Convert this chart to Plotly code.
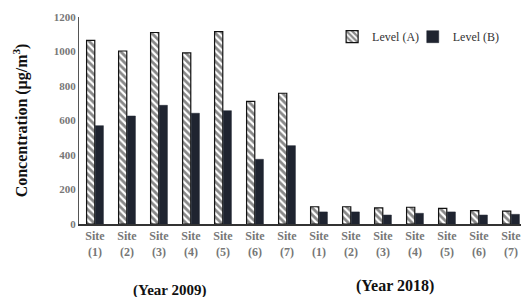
import plotly.graph_objects as go

years = ["2009"] * 7 + ["2018"] * 7
site_labels = ["Site<br>(1)", "Site<br>(2)", "Site<br>(3)", "Site<br>(4)", "Site<br>(5)", "Site<br>(6)", "Site<br>(7)"] * 2
level_a = [1065, 1003, 1110, 992, 1115, 711, 758, 100, 100, 93, 97, 90, 78, 75]
level_b = [570, 626, 688, 642, 657, 375, 454, 70, 70, 52, 62, 70, 52, 56]
y_ticks = [0, 200, 400, 600, 800, 1000, 1200]

cats = [f"Y{y} S{i}" for i, y in enumerate(years)]
serif = "Liberation Serif"

fig = go.Figure()
fig.add_trace(go.Bar(
    x=cats, y=level_a, name="Level (A)", legend="legend",
    marker=dict(color="white", line=dict(color="#111", width=1.2),
                pattern=dict(shape="\\", fgcolor="#111", bgcolor="white", size=5, solidity=0.55)),
))
fig.add_trace(go.Bar(
    x=cats, y=level_b, name="Level (B)", legend="legend2",
    marker=dict(color="#1f2430", line=dict(color="#1f2430", width=0.5)),
))

leg_common = dict(orientation="h", yanchor="top", xanchor="left", y=0.975,
                  font=dict(family=serif, size=12, color="#333"),
                  itemwidth=30, bgcolor="rgba(0,0,0,0)")

fig.update_layout(
    width=521, height=289,
    margin=dict(l=71, r=2, t=9, b=73),
    plot_bgcolor="white", paper_bgcolor="white",
    barmode="group", bargap=0.46, bargroupgap=0.05,
    font=dict(family=serif, color="#777"),
    legend=dict(x=0.565, **leg_common),
    legend2=dict(x=0.745, **leg_common),
    showlegend=True,
)
fig.update_xaxes(
    type="category", automargin=False,
    tickmode="array", tickvals=cats, ticktext=site_labels,
    tickfont=dict(family=serif, size=12, color="#777", weight="bold"),
    showline=True, linecolor="#333", linewidth=1.5, ticks="", showgrid=False,
)
fig.update_yaxes(
    range=[0, 1200], tickvals=y_ticks, automargin=False,
    tickfont=dict(family=serif, size=11, color="#777", weight="bold"),
    showline=True, linecolor="#555", linewidth=1, showgrid=False, zeroline=False,
    title=dict(text="Concentration (μg/m<sup>3</sup>)", font=dict(family=serif, size=16, color="#111", weight="bold"), standoff=22),
)
fig.add_annotation(text="(Year 2009)", x=0.202, y=-0.272, xref="paper", yref="paper",
                   xanchor="center", yanchor="top", showarrow=False,
                   font=dict(family=serif, size=15, color="#111", weight="bold"))
fig.add_annotation(text="(Year 2018)", x=0.705, y=-0.245, xref="paper", yref="paper",
                   xanchor="center", yanchor="top", showarrow=False,
                   font=dict(family=serif, size=16, color="#111", weight="bold"))

fig.write_html("out.html")
